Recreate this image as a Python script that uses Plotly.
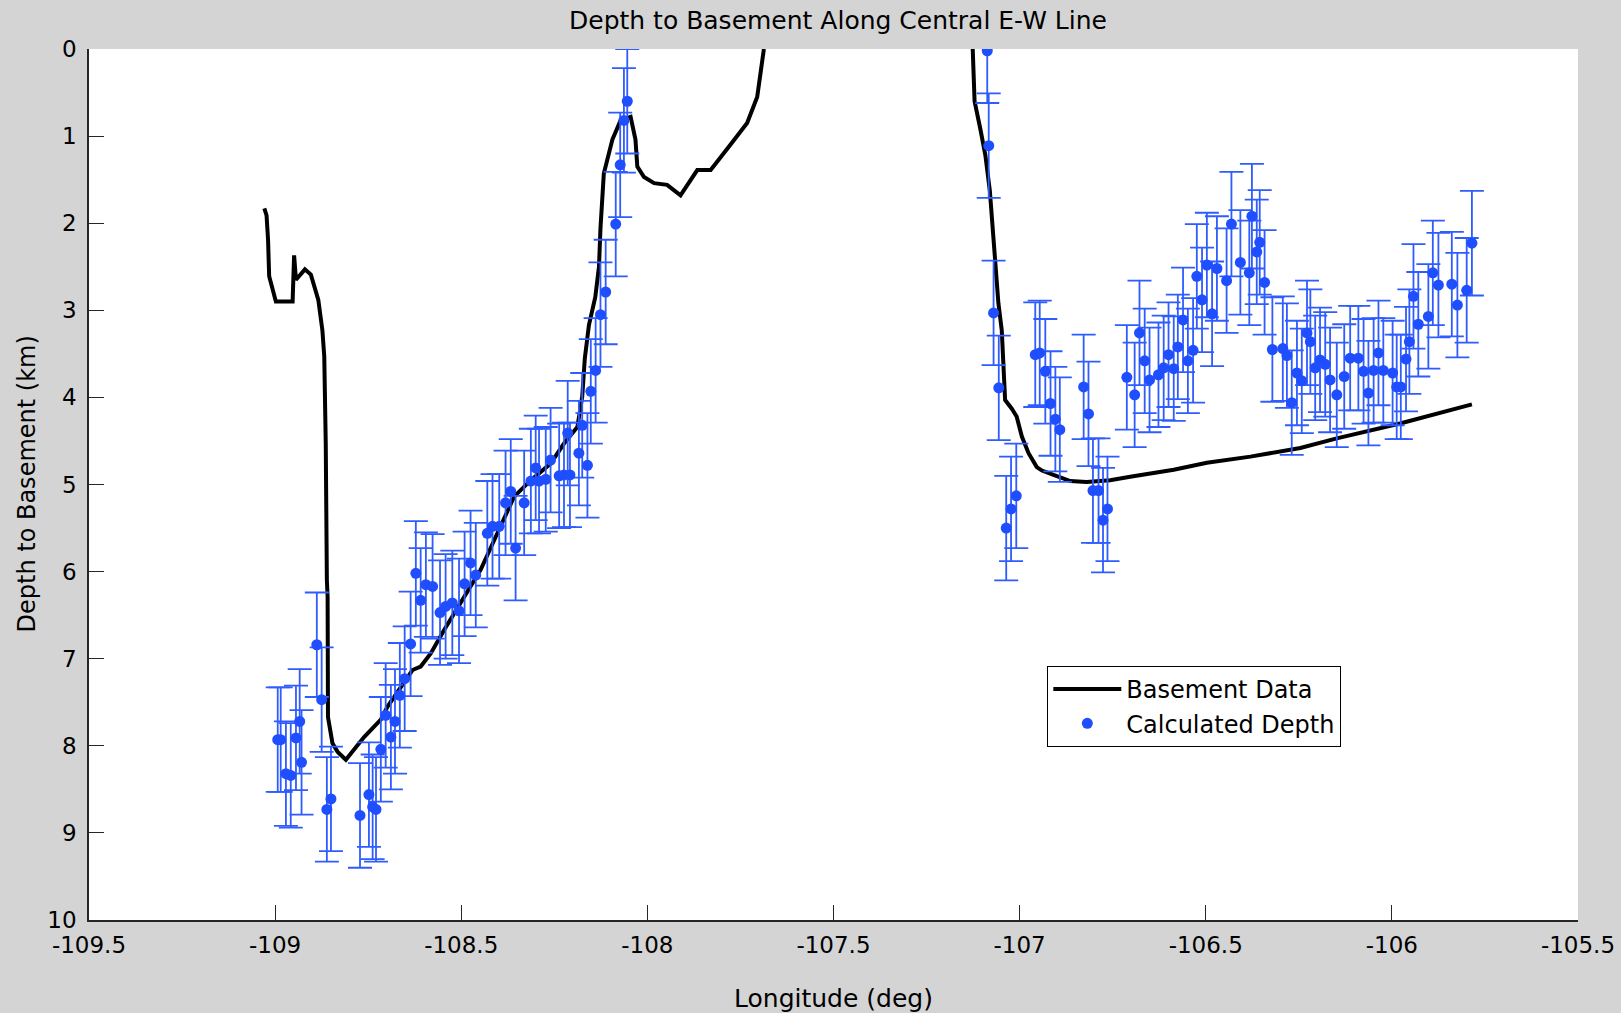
import plotly.graph_objects as go

# Basement data (line); None separates the two visible segments (line leaves the top of the axes)
base_lon = [-109.029, -109.023, -109.019, -109.016, -108.998, -108.953, -108.949, -108.944,
            -108.920, -108.904, -108.884, -108.873, -108.868, -108.864, -108.861, -108.859,
            -108.858, -108.846, -108.832, -108.810, -108.761, -108.716, -108.698, -108.662,
            -108.631, -108.609, -108.582, -108.546, -108.501, -108.466, -108.448, -108.403,
            -108.358, -108.313, -108.260, -108.224, -108.188, -108.175, -108.168, -108.157,
            -108.140, -108.130, -108.126, -108.117, -108.094, -108.072, -108.045, -108.032,
            -108.027, -108.009, -107.982, -107.947, -107.911, -107.866, -107.830, -107.777,
            -107.732, -107.705, -107.687,
            None,
            -107.126, -107.123, -107.121, -107.105, -107.092, -107.080, -107.074, -107.065,
            -107.057, -107.048, -107.044, -107.039, -107.021, -107.008, -106.994, -106.976,
            -106.954, -106.940, -106.909, -106.864, -106.820, -106.757, -106.703, -106.586,
            -106.497, -106.380, -106.246, -106.148, -105.978, -105.785]
base_depth = [1.83, 1.91, 2.19, 2.61, 2.90, 2.90, 2.37, 2.65,
              2.53, 2.59, 2.88, 3.23, 3.53, 4.53, 6.10, 6.29,
              7.67, 7.97, 8.07, 8.16, 7.90, 7.70, 7.55, 7.32,
              7.13, 7.09, 6.94, 6.67, 6.36, 6.10, 5.98, 5.56,
              5.14, 4.95, 4.76, 4.53, 4.34, 3.99, 3.55, 3.17,
              2.85, 2.50, 2.06, 1.43, 1.04, 0.82, 0.78, 1.04,
              1.35, 1.47, 1.54, 1.56, 1.68, 1.39, 1.39, 1.10,
              0.85, 0.55, 0.0,
              None,
              0.0, 0.27, 0.60, 0.93, 1.22, 1.63, 1.96, 2.45,
              2.92, 3.23, 3.61, 4.03, 4.13, 4.22, 4.45, 4.64,
              4.80, 4.84, 4.89, 4.96, 4.97, 4.95, 4.91, 4.83,
              4.75, 4.68, 4.58, 4.47, 4.30, 4.08]

# Calculated depth points
calc_lon = [-108.993, -108.985, -108.971, -108.958, -108.944, -108.934, -108.929, -108.888,
            -108.875, -108.861, -108.850, -108.772, -108.748, -108.738, -108.729, -108.716,
            -108.703, -108.689, -108.678, -108.665, -108.652, -108.636, -108.622, -108.609,
            -108.595, -108.577, -108.557, -108.542, -108.524, -108.506, -108.491, -108.475,
            -108.461, -108.430, -108.416, -108.398, -108.381, -108.367, -108.354, -108.331,
            -108.313, -108.300, -108.291, -108.273, -108.260, -108.237, -108.224, -108.214,
            -108.208, -108.184, -108.175, -108.161, -108.152, -108.139, -108.126, -108.112,
            -108.085, -108.073, -108.063, -108.054,
            -107.087, -107.083, -107.070, -107.056, -107.036, -107.023, -107.009, -106.958,
            -106.946, -106.931, -106.917, -106.904, -106.892, -106.828, -106.815, -106.803,
            -106.788, -106.776, -106.764, -106.712, -106.691, -106.678, -106.664, -106.651,
            -106.627, -106.613, -106.600, -106.586, -106.575, -106.561, -106.548, -106.534,
            -106.524, -106.510, -106.497, -106.483, -106.470, -106.444, -106.431, -106.407,
            -106.383, -106.376, -106.363, -106.355, -106.342, -106.321, -106.293, -106.282,
            -106.269, -106.255, -106.242, -106.228, -106.219, -106.206, -106.193, -106.179,
            -106.166, -106.148, -106.128, -106.112, -106.090, -106.076, -106.063, -106.049,
            -106.036, -106.023, -105.998, -105.987, -105.976, -105.962, -105.953, -105.942,
            -105.929, -105.902, -105.890, -105.875, -105.839, -105.824, -105.799, -105.785]
calc_depth = [7.93, 7.93, 8.32, 8.34, 7.91, 7.72, 8.19, 6.84,
              7.47, 8.73, 8.61, 8.80, 8.56, 8.70, 8.73, 8.04,
              7.65, 7.90, 7.72, 7.42, 7.23, 6.83, 6.02, 6.33,
              6.15, 6.17, 6.47, 6.40, 6.36, 6.45, 6.14, 5.90,
              6.04, 5.56, 5.48, 5.48, 5.21, 5.08, 5.73, 5.21,
              4.96, 4.81, 4.96, 4.94, 4.72, 4.90, 4.89, 4.41,
              4.89, 4.64, 4.32, 4.78, 3.93, 3.69, 3.05, 2.79,
              2.01, 1.33, 0.82, 0.60,
              0.02, 1.11, 3.03, 3.89, 5.50, 5.28, 5.13, 3.51,
              3.49, 3.70, 4.07, 4.25, 4.37, 3.88, 4.19, 5.07,
              5.07, 5.41, 5.28, 3.77, 3.97, 3.26, 3.58, 3.80,
              3.74, 3.66, 3.51, 3.67, 3.42, 3.11, 3.58, 3.46,
              2.61, 2.88, 2.48, 3.04, 2.52, 2.66, 2.01, 2.45,
              2.57, 1.92, 2.33, 2.22, 2.68, 3.45, 3.44, 3.52,
              4.06, 3.72, 3.81, 3.26, 3.36, 3.66, 3.57, 3.62,
              3.80, 3.97, 3.76, 3.55, 3.55, 3.70, 3.95, 3.69,
              3.49, 3.69, 3.72, 3.88, 3.88, 3.56, 3.36, 2.84,
              3.16, 3.07, 2.57, 2.71, 2.70, 2.94, 2.77, 2.23]
depth_error = 0.6

x_ticks = [-109.5, -109, -108.5, -108, -107.5, -107, -106.5, -106, -105.5]
x_tick_text = ["-109.5", "-109", "-108.5", "-108", "-107.5", "-107", "-106.5", "-106", "-105.5"]
y_ticks = [0, 1, 2, 3, 4, 5, 6, 7, 8, 9, 10]

FONT = "DejaVu Sans"
BG = "#d4d4d4"
AX = "#262626"
L, R, T, B = 89, 43, 49, 93
PH = 1013 - T - B
PW = 1621 - L - R

fig = go.Figure()
fig.add_trace(go.Scatter(
    x=base_lon, y=base_depth, mode="lines", name="Basement Data",
    line=dict(color="black", width=4), connectgaps=False))
fig.add_trace(go.Scatter(
    x=calc_lon, y=calc_depth, mode="markers", name="Calculated Depth",
    marker=dict(color="#1f4eff", size=11, symbol="circle"),
    error_y=dict(type="constant", value=depth_error, color="#2f5cff", thickness=1.8, width=12)))

fig.update_layout(
    width=1621, height=1013,
    paper_bgcolor=BG, plot_bgcolor="white",
    margin=dict(l=L, r=R, t=T, b=B, autoexpand=False),
    font=dict(family=FONT, size=23, color="black"),
    showlegend=True,
    legend=dict(x=0.6436, y=0.2916, xanchor="left", yanchor="top",
                bgcolor="white", bordercolor="black", borderwidth=1,
                font=dict(family=FONT, size=24, color="black"),
                itemwidth=68, tracegroupgap=0),
    xaxis=dict(range=[-109.5, -105.5], tickvals=x_ticks, ticktext=x_tick_text,
               ticks="inside", ticklen=15, tickcolor=AX, tickwidth=1,
               showline=True, linecolor=AX, linewidth=1.5, mirror=False,
               showgrid=False, zeroline=False, ticklabelstandoff=4, automargin=False,
               tickfont=dict(family=FONT, size=23, color="black")),
    yaxis=dict(range=[10, 0], tickvals=y_ticks,
               ticks="inside", ticklen=15, tickcolor=AX, tickwidth=1,
               showline=True, linecolor=AX, linewidth=1.5, mirror=False,
               showgrid=False, zeroline=False, ticklabelstandoff=6, automargin=False,
               tickfont=dict(family=FONT, size=23, color="black")),
    annotations=[
        dict(text="Depth to Basement Along Central E-W Line", xref="paper", yref="paper",
             x=0.503, y=1 + (T - 20) / PH, xanchor="center", yanchor="middle",
             showarrow=False, font=dict(family=FONT, size=25, color="black")),
        dict(text="Longitude (deg)", xref="paper", yref="paper",
             x=0.5, y=-(998 - (1013 - B)) / PH, xanchor="center", yanchor="middle",
             showarrow=False, font=dict(family=FONT, size=25, color="black")),
        dict(text="Depth to Basement (km)", xref="paper", yref="paper",
             x=-(L - 26) / PW, y=0.5, xanchor="center", yanchor="middle", textangle=-90,
             showarrow=False, font=dict(family=FONT, size=24, color="black")),
    ],
)

fig.write_html("out.html", config={"displayModeBar": False},
               post_script="document.body.style.margin='0';document.body.style.overflow='hidden';")
